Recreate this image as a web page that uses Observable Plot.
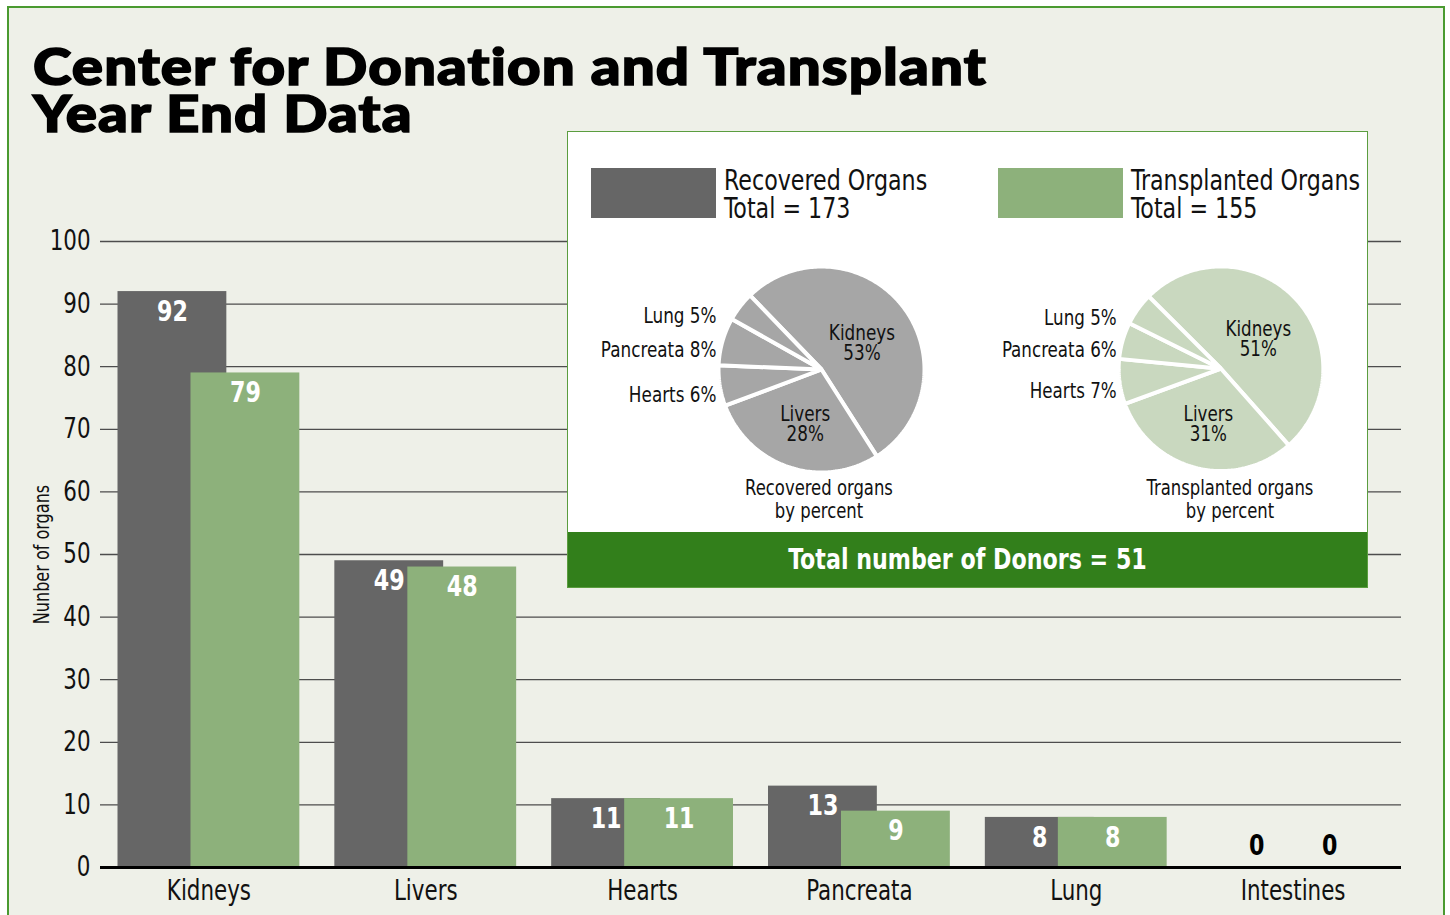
<!DOCTYPE html>
<html>
<head>
<meta charset="utf-8">
<script src="https://cdn.jsdelivr.net/npm/d3@7"></script>
<script src="https://cdn.jsdelivr.net/npm/@observablehq/plot@0.6"></script>
<style>
  html, body { margin: 0; padding: 0; }
  body { position: relative; width: 1450px; height: 915px; overflow: hidden; background: #fff;
         font-family: "DejaVu Sans Condensed", "Liberation Sans Narrow", sans-serif; color: #111; }
  .abs { position: absolute; white-space: nowrap; }
  #frame { left: 7px; top: 6px; width: 1438px; height: 940px; box-sizing: border-box; border: 2px solid #4a9a30; background: #eef0e8; }
  .title { left: 33px; font-family: "Lato", "Inter", "Roboto", sans-serif; font-weight: 900; font-size: 52px; line-height: 47px; height: 47px;
           color: #000; -webkit-text-stroke: 1.6px #000; letter-spacing: 1px; transform: scaleX(1.12); transform-origin: left center; }
  #inset { left: 567px; top: 131px; width: 801px; height: 457px; box-sizing: border-box; border: 1px solid #5b9d3f; background: #fff; }
  #footerbg { left: 568px; top: 532px; width: 799px; height: 55px; background: #327f1b; }
  #footer { left: 568px; top: 532px; width: 799px; height: 55px; color: #fff; font-weight: bold; font-size: 29px; line-height: 55px; text-align: center;
            transform: scaleX(0.85); transform-origin: center center; }
  .sw { width: 125px; height: 50px; top: 168px; }
  .lg { font-size: 29px; line-height: 28px; height: 28px; transform: scaleX(0.85); transform-origin: left center; }
  .cap { width: 300px; text-align: center; font-size: 21.5px; line-height: 23px; height: 23px; transform: scaleX(0.85); transform-origin: center center; }
</style>
</head>
<body>
<div id="frame" class="abs"></div>
<div id="chart" class="abs" style="left:0;top:0"></div>
<div id="title1" class="abs title" style="top:42px"></div>
<div id="title2" class="abs title" style="top:89px"></div>
<div id="inset" class="abs"></div>
<div id="footerbg" class="abs"></div>
<div id="footer" class="abs"></div>
<div id="sw1" class="abs sw" style="left:591px"></div>
<div id="lg1a" class="abs lg" style="left:724px;top:166px"></div>
<div id="lg1b" class="abs lg" style="left:724px;top:194px"></div>
<div id="sw2" class="abs sw" style="left:998px"></div>
<div id="lg2a" class="abs lg" style="left:1131px;top:166px"></div>
<div id="lg2b" class="abs lg" style="left:1131px;top:194px"></div>
<div id="pie1" class="abs"></div>
<div id="pie2" class="abs"></div>
<div id="cap1a" class="abs cap" style="left:669px;top:476px"></div>
<div id="cap1b" class="abs cap" style="left:669px;top:499px"></div>
<div id="cap2a" class="abs cap" style="left:1080px;top:476px"></div>
<div id="cap2b" class="abs cap" style="left:1080px;top:499px"></div>
<script>
// ---------------- data ----------------
const titleLines = ["Center for Donation and Transplant", "Year End Data"];
const categories = ["Kidneys", "Livers", "Hearts", "Pancreata", "Lung", "Intestines"];
const recovered = [92, 49, 11, 13, 8, 0];
const transplanted = [79, 48, 11, 9, 8, 0];
const yTicks = [0, 10, 20, 30, 40, 50, 60, 70, 80, 90, 100];
const seriesNames = ["Recovered Organs", "Transplanted Organs"];
const pieCaptions = [["Recovered organs", "by percent"], ["Transplanted organs", "by percent"]];
const totalDonors = 51;
const yLabel = "Nunber of organs";

// ---------------- style ----------------
const FONT = '"DejaVu Sans Condensed", "Liberation Sans Narrow", sans-serif';
const GRAY = "#666666", GREEN = "#8db17b";
const PIE_GRAY = "#a6a6a6", PIE_GREEN = "#c9d8bf";
const K = 0.85; // horizontal condensing of text

function condense(svg, k) {
  svg.querySelectorAll("text").forEach(t => {
    const spans = t.querySelectorAll("tspan");
    const targets = spans.length ? Array.from(spans) : [t];
    targets.forEach(s => {
      const len = s.getComputedTextLength();
      if (len > 0) {
        s.setAttribute("textLength", (len * k).toFixed(2));
        s.setAttribute("lengthAdjust", "spacingAndGlyphs");
      }
    });
  });
}

const rows = categories.map((c, i) => ({category: c, recovered: recovered[i], transplanted: transplanted[i]}));
const OFF = 36.5, INSET = 54;

const chart = Plot.plot({
  width: 1450, height: 915,
  marginLeft: 100, marginRight: 49, marginTop: 241, marginBottom: 48,
  style: {fontFamily: FONT, background: "transparent", color: "#111", overflow: "visible"},
  x: {domain: categories, padding: 0, round: false},
  y: {domain: [0, 100]},
  marks: [
    Plot.gridY(yTicks, {stroke: "#4d4d4d", strokeOpacity: 1, strokeWidth: 1.3}),
    Plot.axisY(yTicks, {tickSize: 0, tickPadding: 10, fontSize: 28, label: null}),
    Plot.axisX({tickSize: 0, tickPadding: 13, fontSize: 28, label: null}),
    Plot.text([yLabel], {frameAnchor: "left", text: d => d, rotate: -90, textAnchor: "middle", dx: -58, fontSize: 21}),
    Plot.barY(rows, {x: "category", y: "recovered", fill: GRAY, insetLeft: INSET, insetRight: INSET, dx: -OFF}),
    Plot.barY(rows, {x: "category", y: "transplanted", fill: GREEN, insetLeft: INSET, insetRight: INSET, dx: OFF}),
    Plot.ruleY([0], {stroke: "#000", strokeWidth: 3}),
    Plot.text(rows.filter(d => d.recovered > 0), {x: "category", y: "recovered", text: d => String(d.recovered), dx: -OFF, dy: 20, fill: "#fff", fontWeight: "bold", fontSize: 29}),
    Plot.text(rows.filter(d => d.transplanted > 0), {x: "category", y: "transplanted", text: d => String(d.transplanted), dx: OFF, dy: 20, fill: "#fff", fontWeight: "bold", fontSize: 29}),
    Plot.text(rows.filter(d => d.recovered === 0), {x: "category", y: "recovered", text: d => String(d.recovered), dx: -OFF, dy: -22, fill: "#000", fontWeight: "bold", fontSize: 29}),
    Plot.text(rows.filter(d => d.transplanted === 0), {x: "category", y: "transplanted", text: d => String(d.transplanted), dx: OFF, dy: -22, fill: "#000", fontWeight: "bold", fontSize: 29})
  ]
});
document.getElementById("chart").appendChild(chart);
condense(chart, K);

// titles, legend, captions
document.getElementById("title1").textContent = titleLines[0];
document.getElementById("title2").textContent = titleLines[1];
document.getElementById("sw1").style.background = GRAY;
document.getElementById("sw2").style.background = GREEN;
document.getElementById("lg1a").textContent = seriesNames[0];
document.getElementById("lg1b").textContent = `Total = ${d3.sum(recovered)}`;
document.getElementById("lg2a").textContent = seriesNames[1];
document.getElementById("lg2b").textContent = `Total = ${d3.sum(transplanted)}`;
document.getElementById("cap1a").textContent = pieCaptions[0][0];
document.getElementById("cap1b").textContent = pieCaptions[0][1];
document.getElementById("cap2a").textContent = pieCaptions[1][0];
document.getElementById("cap2b").textContent = pieCaptions[1][1];
document.getElementById("footer").textContent = `Total number of Donors = ${totalDonors}`;

// pies
function pie(values, color, startDeg, cx, cy, el) {
  const data = categories.map((c, i) => ({name: c, value: values[i]})).filter(d => d.value > 0);
  const total = d3.sum(data, d => d.value);
  const a0 = startDeg * Math.PI / 180;
  const arcs = d3.pie().sort(null).value(d => d.value).startAngle(a0).endAngle(a0 + 2 * Math.PI)(data);
  const R = 103;
  const pts = [];
  arcs.forEach(a => {
    pts.push({name: a.data.name, x: 0, y: 0});
    const n = Math.max(2, Math.ceil((a.endAngle - a.startAngle) / (Math.PI / 180)));
    for (let k = 0; k <= n; k++) {
      const t = a.startAngle + (a.endAngle - a.startAngle) * k / n;
      pts.push({name: a.data.name, x: R * Math.sin(t), y: R * Math.cos(t)});
    }
  });
  const labels = arcs.map(a => {
    const mid = (a.startAngle + a.endAngle) / 2;
    const pct = Math.round(a.data.value / total * 100);
    const inside = a.data.value / total > 0.2;
    return inside
      ? {x: 0.5 * R * Math.sin(mid), y: 0.5 * R * Math.cos(mid) - 6, text: `${a.data.name}\n${pct}%`, anchor: "middle"}
      : {x: -R - 2, y: R * Math.cos(mid) - 9, text: `${a.data.name} ${pct}%`, anchor: "end"};
  });
  const W = 462, H = 240;
  const p = Plot.plot({
    width: W, height: H, margin: 0,
    style: {fontFamily: FONT, background: "transparent", color: "#111", overflow: "visible"},
    x: {domain: [-W / 2, W / 2], axis: null},
    y: {domain: [-H / 2, H / 2], axis: null},
    marks: [
      Plot.line(pts, {x: "x", y: "y", z: "name", curve: "linear-closed", fill: color, stroke: "#fff", strokeWidth: 4, strokeLinejoin: "miter"}),
      Plot.text(labels.filter(d => d.anchor === "middle"), {x: "x", y: "y", text: "text", fontSize: 22, lineHeight: 0.92, fill: "#111"}),
      Plot.text(labels.filter(d => d.anchor === "end"), {x: "x", y: "y", text: "text", fontSize: 22, textAnchor: "end", fill: "#111"})
    ]
  });
  const host = document.getElementById(el);
  host.style.left = (cx - W / 2) + "px";
  host.style.top = (cy - H / 2) + "px";
  host.appendChild(p);
  condense(p, K);
}
pie(recovered, PIE_GRAY, -44, 821, 369, "pie1");
pie(transplanted, PIE_GREEN, -45, 1222, 369, "pie2");
</script>
</body>
</html>
